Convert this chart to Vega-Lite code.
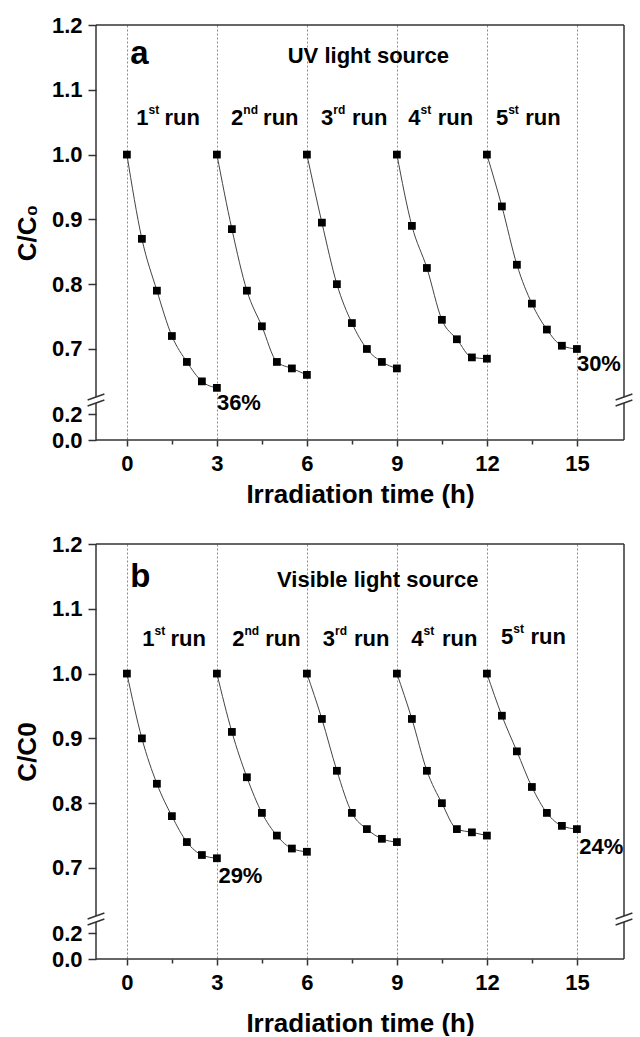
{
  "$schema": "https://vega.github.io/schema/vega-lite/v6.json",
  "padding": {"top": 14, "left": 14, "right": 0, "bottom": 0},
  "spacing": 26,
  "config": {
    "font": "Liberation Sans",
    "view": {"stroke": null},
    "text": {"font": "Liberation Sans", "fontWeight": "bold", "color": "black"}
  },
  "datasets": {
    "pts": [
      {"p":"a","r":1,"x":0,"y":1.0},{"p":"a","r":1,"x":0.5,"y":0.87},{"p":"a","r":1,"x":1,"y":0.79},{"p":"a","r":1,"x":1.5,"y":0.72},{"p":"a","r":1,"x":2,"y":0.68},{"p":"a","r":1,"x":2.5,"y":0.65},{"p":"a","r":1,"x":3,"y":0.64},
      {"p":"a","r":2,"x":3,"y":1.0},{"p":"a","r":2,"x":3.5,"y":0.885},{"p":"a","r":2,"x":4,"y":0.79},{"p":"a","r":2,"x":4.5,"y":0.735},{"p":"a","r":2,"x":5,"y":0.68},{"p":"a","r":2,"x":5.5,"y":0.67},{"p":"a","r":2,"x":6,"y":0.66},
      {"p":"a","r":3,"x":6,"y":1.0},{"p":"a","r":3,"x":6.5,"y":0.895},{"p":"a","r":3,"x":7,"y":0.80},{"p":"a","r":3,"x":7.5,"y":0.74},{"p":"a","r":3,"x":8,"y":0.70},{"p":"a","r":3,"x":8.5,"y":0.68},{"p":"a","r":3,"x":9,"y":0.67},
      {"p":"a","r":4,"x":9,"y":1.0},{"p":"a","r":4,"x":9.5,"y":0.89},{"p":"a","r":4,"x":10,"y":0.825},{"p":"a","r":4,"x":10.5,"y":0.745},{"p":"a","r":4,"x":11,"y":0.715},{"p":"a","r":4,"x":11.5,"y":0.687},{"p":"a","r":4,"x":12,"y":0.685},
      {"p":"a","r":5,"x":12,"y":1.0},{"p":"a","r":5,"x":12.5,"y":0.92},{"p":"a","r":5,"x":13,"y":0.83},{"p":"a","r":5,"x":13.5,"y":0.77},{"p":"a","r":5,"x":14,"y":0.73},{"p":"a","r":5,"x":14.5,"y":0.705},{"p":"a","r":5,"x":15,"y":0.70},
      {"p":"b","r":1,"x":0,"y":1.0},{"p":"b","r":1,"x":0.5,"y":0.90},{"p":"b","r":1,"x":1,"y":0.83},{"p":"b","r":1,"x":1.5,"y":0.78},{"p":"b","r":1,"x":2,"y":0.74},{"p":"b","r":1,"x":2.5,"y":0.72},{"p":"b","r":1,"x":3,"y":0.715},
      {"p":"b","r":2,"x":3,"y":1.0},{"p":"b","r":2,"x":3.5,"y":0.91},{"p":"b","r":2,"x":4,"y":0.84},{"p":"b","r":2,"x":4.5,"y":0.785},{"p":"b","r":2,"x":5,"y":0.75},{"p":"b","r":2,"x":5.5,"y":0.73},{"p":"b","r":2,"x":6,"y":0.725},
      {"p":"b","r":3,"x":6,"y":1.0},{"p":"b","r":3,"x":6.5,"y":0.93},{"p":"b","r":3,"x":7,"y":0.85},{"p":"b","r":3,"x":7.5,"y":0.785},{"p":"b","r":3,"x":8,"y":0.76},{"p":"b","r":3,"x":8.5,"y":0.745},{"p":"b","r":3,"x":9,"y":0.74},
      {"p":"b","r":4,"x":9,"y":1.0},{"p":"b","r":4,"x":9.5,"y":0.93},{"p":"b","r":4,"x":10,"y":0.85},{"p":"b","r":4,"x":10.5,"y":0.80},{"p":"b","r":4,"x":11,"y":0.76},{"p":"b","r":4,"x":11.5,"y":0.755},{"p":"b","r":4,"x":12,"y":0.75},
      {"p":"b","r":5,"x":12,"y":1.0},{"p":"b","r":5,"x":12.5,"y":0.935},{"p":"b","r":5,"x":13,"y":0.88},{"p":"b","r":5,"x":13.5,"y":0.825},{"p":"b","r":5,"x":14,"y":0.785},{"p":"b","r":5,"x":14.5,"y":0.765},{"p":"b","r":5,"x":15,"y":0.76}
    ],
    "txt": [
      {"p":"a","k":"n","x":0.31,"y":1.046,"s":"1"},{"p":"a","k":"s","x":0.72,"y":1.046,"s":"st"},{"p":"a","k":"n","x":1.25,"y":1.046,"s":"run"},
      {"p":"a","k":"n","x":3.47,"y":1.046,"s":"2"},{"p":"a","k":"s","x":3.88,"y":1.046,"s":"nd"},{"p":"a","k":"n","x":4.54,"y":1.046,"s":"run"},
      {"p":"a","k":"n","x":6.47,"y":1.046,"s":"3"},{"p":"a","k":"s","x":6.88,"y":1.046,"s":"rd"},{"p":"a","k":"n","x":7.50,"y":1.046,"s":"run"},
      {"p":"a","k":"n","x":9.38,"y":1.046,"s":"4"},{"p":"a","k":"s","x":9.79,"y":1.046,"s":"st"},{"p":"a","k":"n","x":10.36,"y":1.046,"s":"run"},
      {"p":"a","k":"n","x":12.30,"y":1.046,"s":"5"},{"p":"a","k":"s","x":12.71,"y":1.046,"s":"st"},{"p":"a","k":"n","x":13.28,"y":1.046,"s":"run"},
      {"p":"a","k":"big","x":0.11,"y":1.14,"s":"a"},
      {"p":"a","k":"head","x":8.05,"y":1.141,"s":"UV light source"},
      {"p":"a","k":"pct","x":3.0,"y":0.64,"s":"36%"},{"p":"a","k":"pct","x":15.0,"y":0.70,"s":"30%"},
      {"p":"b","k":"n","x":0.51,"y":1.043,"s":"1"},{"p":"b","k":"s","x":0.92,"y":1.043,"s":"st"},{"p":"b","k":"n","x":1.45,"y":1.043,"s":"run"},
      {"p":"b","k":"n","x":3.51,"y":1.043,"s":"2"},{"p":"b","k":"s","x":3.92,"y":1.043,"s":"nd"},{"p":"b","k":"n","x":4.61,"y":1.043,"s":"run"},
      {"p":"b","k":"n","x":6.53,"y":1.043,"s":"3"},{"p":"b","k":"s","x":6.94,"y":1.043,"s":"rd"},{"p":"b","k":"n","x":7.57,"y":1.043,"s":"run"},
      {"p":"b","k":"n","x":9.48,"y":1.043,"s":"4"},{"p":"b","k":"s","x":9.89,"y":1.043,"s":"st"},{"p":"b","k":"n","x":10.50,"y":1.043,"s":"run"},
      {"p":"b","k":"n","x":12.47,"y":1.046,"s":"5"},{"p":"b","k":"s","x":12.88,"y":1.046,"s":"st"},{"p":"b","k":"n","x":13.45,"y":1.046,"s":"run"},
      {"p":"b","k":"big","x":0.11,"y":1.133,"s":"b"},
      {"p":"b","k":"head","x":8.36,"y":1.134,"s":"Visible light source"},
      {"p":"b","k":"pct","x":3.05,"y":0.715,"s":"29%"},{"p":"b","k":"pct","x":15.08,"y":0.76,"s":"24%"}
    ],
    "frame": [
      {"x":-1.03,"y":0,"x2":-1.03,"y2":0.289},
      {"x":-1.03,"y":0.4653,"x2":-1.03,"y2":1.2},
      {"x":16.57,"y":0,"x2":16.57,"y2":0.289},
      {"x":16.57,"y":0.4653,"x2":16.57,"y2":1.2},
      {"x":-1.03,"y":1.2,"x2":16.57,"y2":1.2},
      {"x":-1.03,"y":0,"x2":16.57,"y2":0},
      {"x":-1.31,"y":0.3643,"x2":-0.75,"y2":0.5663},
      {"x":-1.31,"y":0.2656,"x2":-0.75,"y2":0.3643},
      {"x":16.29,"y":0.3643,"x2":16.85,"y2":0.5663},
      {"x":16.29,"y":0.2656,"x2":16.85,"y2":0.3643}
    ]
  },
  "vconcat": [
    {
      "width": 528,
      "height": 415,
      "layer": [
        {
          "data": {"name": "pts"},
          "transform": [{"filter": "datum.p == 'a'"}],
          "mark": {"type": "line", "color": "#444", "strokeWidth": 1, "interpolate": "monotone"},
          "encoding": {
            "x": {"field": "x", "type": "quantitative",
              "scale": {"domain": [-1.03, 16.57], "nice": false, "zero": false},
              "axis": {"title": "Irradiation time (h)", "values": [0,1.5,3,4.5,6,7.5,9,10.5,12,13.5,15],
                "labelExpr": "abs(datum.value % 3) < 0.001 ? format(datum.value, 'd') : ''",
                "tickSize": {"condition": {"test": "abs(datum.value % 3) < 0.001", "value": 6}, "value": 4},
                "grid": true, "gridDash": [2, 2], "gridColor": "#8a8a8a", "gridWidth": 1,
                "gridOpacity": {"condition": {"test": "abs(datum.value % 3) < 0.001", "value": 1}, "value": 0},
                "domain": false, "tickColor": "#333", "tickWidth": 1.5,
                "labelFontSize": 22, "labelFontWeight": "bold", "labelColor": "black", "labelPadding": 7, "labelFlush": false, "labelOverlap": false,
                "titleFontSize": 26, "titleFontWeight": "bold", "titleColor": "black", "titlePadding": 7}},
            "y": {"field": "y", "type": "quantitative",
              "scale": {"domain": [0, 0.297, 0.6336, 1.2], "range": [415, 377, 367, 0], "nice": false, "zero": false},
              "axis": {"title": "C/C₀", "values": [0,0.1,0.2,0.65,0.7,0.75,0.8,0.85,0.9,0.95,1.0,1.05,1.1,1.15,1.2],
                "labelExpr": "(datum.value != 0.1 && abs(datum.value*10 - round(datum.value*10)) < 0.001) ? format(datum.value, '.1f') : ''",
                "tickSize": {"condition": {"test": "datum.value != 0.1 && abs(datum.value*10 - round(datum.value*10)) < 0.001", "value": 8}, "value": 4},
                "grid": false, "domain": false, "tickColor": "#333", "tickWidth": 1.5,
                "labelFontSize": 22, "labelFontWeight": "bold", "labelColor": "black", "labelPadding": 6, "labelOverlap": false, "labelFlush": false,
                "titleFontSize": 26, "titleFontWeight": "bold", "titleColor": "black", "titlePadding": 11}},
            "detail": {"field": "r"}
          }
        },
        {
          "data": {"name": "pts"},
          "transform": [{"filter": "datum.p == 'a'"}],
          "mark": {"type": "point", "shape": "square", "filled": true, "color": "black", "size": 60, "opacity": 1},
          "encoding": {"x": {"field": "x", "type": "quantitative"}, "y": {"field": "y", "type": "quantitative"}}
        },
        {
          "data": {"name": "frame"},
          "mark": {"type": "rule", "color": "#333", "strokeWidth": 1.5},
          "encoding": {"x": {"field": "x", "type": "quantitative"}, "y": {"field": "y", "type": "quantitative"}, "x2": {"field": "x2"}, "y2": {"field": "y2"}}
        },
        {
          "data": {"name": "txt"},
          "transform": [{"filter": "datum.p == 'a' && datum.k == 'n'"}],
          "mark": {"type": "text", "align": "left", "baseline": "alphabetic", "fontSize": 22},
          "encoding": {"x": {"field": "x", "type": "quantitative"}, "y": {"field": "y", "type": "quantitative"}, "text": {"field": "s"}}
        },
        {
          "data": {"name": "txt"},
          "transform": [{"filter": "datum.p == 'a' && datum.k == 's'"}],
          "mark": {"type": "text", "align": "left", "baseline": "alphabetic", "fontSize": 12, "dy": -11},
          "encoding": {"x": {"field": "x", "type": "quantitative"}, "y": {"field": "y", "type": "quantitative"}, "text": {"field": "s"}}
        },
        {
          "data": {"name": "txt"},
          "transform": [{"filter": "datum.p == 'a' && datum.k == 'big'"}],
          "mark": {"type": "text", "align": "left", "baseline": "alphabetic", "fontSize": 33},
          "encoding": {"x": {"field": "x", "type": "quantitative"}, "y": {"field": "y", "type": "quantitative"}, "text": {"field": "s"}}
        },
        {
          "data": {"name": "txt"},
          "transform": [{"filter": "datum.p == 'a' && datum.k == 'head'"}],
          "mark": {"type": "text", "align": "center", "baseline": "alphabetic", "fontSize": 22},
          "encoding": {"x": {"field": "x", "type": "quantitative"}, "y": {"field": "y", "type": "quantitative"}, "text": {"field": "s"}}
        },
        {
          "data": {"name": "txt"},
          "transform": [{"filter": "datum.p == 'a' && datum.k == 'pct'"}],
          "mark": {"type": "text", "align": "left", "baseline": "alphabetic", "fontSize": 22, "dy": 22},
          "encoding": {"x": {"field": "x", "type": "quantitative"}, "y": {"field": "y", "type": "quantitative"}, "text": {"field": "s"}}
        }
      ]
    },
    {
      "width": 528,
      "height": 415,
      "layer": [
        {
          "data": {"name": "pts"},
          "transform": [{"filter": "datum.p == 'b'"}],
          "mark": {"type": "line", "color": "#444", "strokeWidth": 1, "interpolate": "monotone"},
          "encoding": {
            "x": {"field": "x", "type": "quantitative",
              "scale": {"domain": [-1.03, 16.57], "nice": false, "zero": false},
              "axis": {"title": "Irradiation time (h)", "values": [0,1.5,3,4.5,6,7.5,9,10.5,12,13.5,15],
                "labelExpr": "abs(datum.value % 3) < 0.001 ? format(datum.value, 'd') : ''",
                "tickSize": {"condition": {"test": "abs(datum.value % 3) < 0.001", "value": 6}, "value": 4},
                "grid": true, "gridDash": [2, 2], "gridColor": "#8a8a8a", "gridWidth": 1,
                "gridOpacity": {"condition": {"test": "abs(datum.value % 3) < 0.001", "value": 1}, "value": 0},
                "domain": false, "tickColor": "#333", "tickWidth": 1.5,
                "labelFontSize": 22, "labelFontWeight": "bold", "labelColor": "black", "labelPadding": 7, "labelFlush": false, "labelOverlap": false,
                "titleFontSize": 26, "titleFontWeight": "bold", "titleColor": "black", "titlePadding": 17}},
            "y": {"field": "y", "type": "quantitative",
              "scale": {"domain": [0, 0.297, 0.6336, 1.2], "range": [415, 377, 367, 0], "nice": false, "zero": false},
              "axis": {"title": "C/C0", "values": [0,0.1,0.2,0.65,0.7,0.75,0.8,0.85,0.9,0.95,1.0,1.05,1.1,1.15,1.2],
                "labelExpr": "(datum.value != 0.1 && abs(datum.value*10 - round(datum.value*10)) < 0.001) ? format(datum.value, '.1f') : ''",
                "tickSize": {"condition": {"test": "datum.value != 0.1 && abs(datum.value*10 - round(datum.value*10)) < 0.001", "value": 8}, "value": 4},
                "grid": false, "domain": false, "tickColor": "#333", "tickWidth": 1.5,
                "labelFontSize": 22, "labelFontWeight": "bold", "labelColor": "black", "labelPadding": 6, "labelOverlap": false, "labelFlush": false,
                "titleFontSize": 26, "titleFontWeight": "bold", "titleColor": "black", "titlePadding": 11}},
            "detail": {"field": "r"}
          }
        },
        {
          "data": {"name": "pts"},
          "transform": [{"filter": "datum.p == 'b'"}],
          "mark": {"type": "point", "shape": "square", "filled": true, "color": "black", "size": 60, "opacity": 1},
          "encoding": {"x": {"field": "x", "type": "quantitative"}, "y": {"field": "y", "type": "quantitative"}}
        },
        {
          "data": {"name": "frame"},
          "mark": {"type": "rule", "color": "#333", "strokeWidth": 1.5},
          "encoding": {"x": {"field": "x", "type": "quantitative"}, "y": {"field": "y", "type": "quantitative"}, "x2": {"field": "x2"}, "y2": {"field": "y2"}}
        },
        {
          "data": {"name": "txt"},
          "transform": [{"filter": "datum.p == 'b' && datum.k == 'n'"}],
          "mark": {"type": "text", "align": "left", "baseline": "alphabetic", "fontSize": 22},
          "encoding": {"x": {"field": "x", "type": "quantitative"}, "y": {"field": "y", "type": "quantitative"}, "text": {"field": "s"}}
        },
        {
          "data": {"name": "txt"},
          "transform": [{"filter": "datum.p == 'b' && datum.k == 's'"}],
          "mark": {"type": "text", "align": "left", "baseline": "alphabetic", "fontSize": 12, "dy": -11},
          "encoding": {"x": {"field": "x", "type": "quantitative"}, "y": {"field": "y", "type": "quantitative"}, "text": {"field": "s"}}
        },
        {
          "data": {"name": "txt"},
          "transform": [{"filter": "datum.p == 'b' && datum.k == 'big'"}],
          "mark": {"type": "text", "align": "left", "baseline": "alphabetic", "fontSize": 33},
          "encoding": {"x": {"field": "x", "type": "quantitative"}, "y": {"field": "y", "type": "quantitative"}, "text": {"field": "s"}}
        },
        {
          "data": {"name": "txt"},
          "transform": [{"filter": "datum.p == 'b' && datum.k == 'head'"}],
          "mark": {"type": "text", "align": "center", "baseline": "alphabetic", "fontSize": 22},
          "encoding": {"x": {"field": "x", "type": "quantitative"}, "y": {"field": "y", "type": "quantitative"}, "text": {"field": "s"}}
        },
        {
          "data": {"name": "txt"},
          "transform": [{"filter": "datum.p == 'b' && datum.k == 'pct'"}],
          "mark": {"type": "text", "align": "left", "baseline": "alphabetic", "fontSize": 22, "dy": 25},
          "encoding": {"x": {"field": "x", "type": "quantitative"}, "y": {"field": "y", "type": "quantitative"}, "text": {"field": "s"}}
        }
      ]
    }
  ]
}
